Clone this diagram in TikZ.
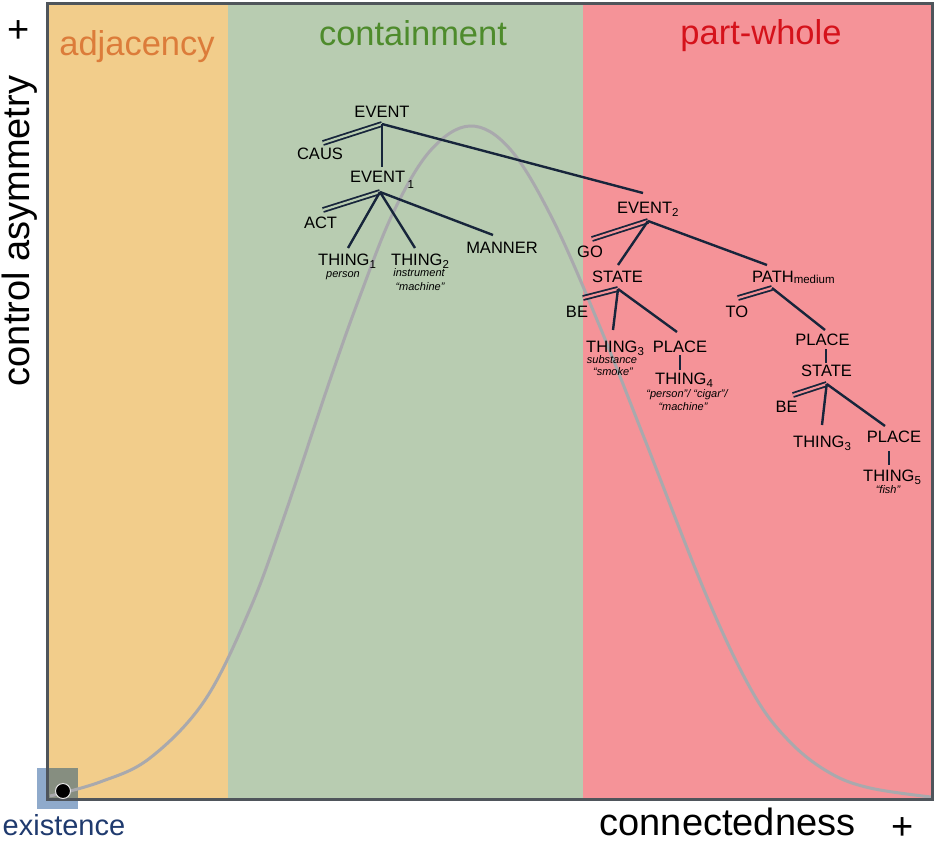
\documentclass[tikz,border=0pt]{standalone}
\usepackage{fontspec}
\setmainfont{Liberation Sans}
\definecolor{adjfill}{HTML}{F2CD8B}
\definecolor{contfill}{HTML}{B8CCB1}
\definecolor{pwfill}{HTML}{F59398}
\definecolor{framec}{HTML}{4F555B}
\definecolor{curvec}{HTML}{A9A9AD}
\definecolor{navy}{HTML}{17253B}
\definecolor{adjtext}{HTML}{DC7C3A}
\definecolor{conttext}{HTML}{4E8B2C}
\definecolor{pwtext}{HTML}{D5121B}
\definecolor{existc}{HTML}{1F3A6E}
\definecolor{bluesq}{HTML}{8FAACB}
\definecolor{greysq}{HTML}{868E80}
\newcommand\tlab{\fontsize{16.5}{18}\selectfont}
\newcommand\tnote{\fontsize{11}{12}\selectfont\itshape}
\newcommand\axlab{\fontsize{38}{40}\selectfont}
\newcommand\reglab{\fontsize{34.5}{36}\selectfont}
\newcommand\sbs[1]{\raisebox{-3pt}{\fontsize{11.5}{12}\selectfont #1}}
\begin{document}
\begin{tikzpicture}[x=1pt,y=-1pt,
  lab/.style={inner sep=0pt, font=\tlab, text=black},
  note/.style={inner sep=0pt, font=\tnote, text=black},
  edge/.style={draw=navy, line width=2.4pt},
  dbl/.style={draw=navy, line width=1.8pt, double=#1, double distance=2.2pt},
  region/.style={inner sep=0pt, font=\reglab},
  axis/.style={inner sep=0pt, font=\axlab, text=black}]
\path[use as bounding box] (0,0) rectangle (935,841);
% regions
\fill[adjfill] (47,3) rectangle (227.5,799);
\fill[contfill] (227.5,3) rectangle (583,799);
\fill[pwfill] (583,3) rectangle (932,799);
% existence square
\fill[bluesq] (37,768) rectangle (78,809);
\fill[greysq] (47,768) rectangle (78,799);
% curve
\draw[curvec, line width=3pt] plot[smooth, tension=0.6] coordinates {(50,796) (100,782) (150,758) (205,700) (250,609) (283,520) (330,380) (360,296) (393,213) (430,151) (470,126) (510,149) (553,220) (600,327) (645,440) (707,597) (753,693) (790,742) (830,773) (870,788) (931,797)};
% frame
\draw[framec, line width=3pt] (47,3) rectangle (932,799);
\node[circle, fill=black, draw=white!80!gray, line width=1pt, minimum size=15pt, inner sep=0pt] (dot) at (63,791) {};
% region labels
\node[region, text=adjtext, anchor=base] (adj) at (137,55) {adjacency};
\node[region, text=conttext, anchor=base] (cont) at (413,45) {containment};
\node[region, text=pwtext, anchor=base] (pw) at (761,44) {part-whole};
% axes
\node[axis, rotate=90, anchor=base] (yax) at (30,231) {control asymmetry};
\node[axis] (yplus) at (19,32) {+};
\node[axis, anchor=base] (xax) at (727.5,835) {connectedness};
\node[axis] (xplus) at (903,829) {+};
\node[inner sep=0pt, font=\fontsize{29}{30}\selectfont, text=existc, anchor=base] (exist) at (64,835) {existence};
% tree nodes
\node[lab, anchor=base] (ev) at (382,117) {EVENT};
\node[lab, anchor=base] (caus) at (320,159) {CAUS};
\node[lab, anchor=base west] (ev1) at (350,182) {EVENT\hspace{2.5pt}\raisebox{-6pt}{\fontsize{11.5}{12}\selectfont 1}};
\node[lab, anchor=base] (act) at (320.5,228) {ACT};
\node[lab, anchor=base west] (th1) at (318,265) {THING\sbs{1}};
\node[note, anchor=base] (th1n) at (343,277) {person};
\node[lab, anchor=base west] (th2) at (391,265) {THING\sbs{2}};
\node[note, anchor=base] (th2n) at (419,276.5) {instrument};
\node[note, anchor=base] (th2m) at (420,290) {“machine”};
\node[lab, anchor=base] (man) at (502,253) {MANNER};
\node[lab, anchor=base west] (ev2) at (617,213) {EVENT\sbs{2}};
\node[lab, anchor=base] (go) at (590,257) {GO};
\node[lab, anchor=base] (st) at (617.5,282) {STATE};
\node[lab, anchor=base west] (path) at (752,282) {PATH\raisebox{-1.5pt}{\fontsize{11.5}{12}\selectfont medium}};
\node[lab, anchor=base] (be) at (577,317) {BE};
\node[lab, anchor=base] (to) at (737,317) {TO};
\node[lab, anchor=base west] (th3) at (586,352) {THING\sbs{3}};
\node[note, anchor=base] (th3n) at (612,363.5) {substance};
\node[note, anchor=base] (th3m) at (613,375) {“smoke”};
\node[lab, anchor=base] (pl) at (680,352) {PLACE};
\node[lab, anchor=base west] (th4) at (655,384) {THING\sbs{4}};
\node[note, anchor=base] (th4n) at (687,397) {“person”/ “cigar”/};
\node[note, anchor=base] (th4m) at (683,410) {“machine”};
\node[lab, anchor=base] (plr) at (822.5,345) {PLACE};
\node[lab, anchor=base] (str) at (826.5,376) {STATE};
\node[lab, anchor=base] (ber) at (786.7,412) {BE};
\node[lab, anchor=base west] (th3r) at (793,447) {THING\sbs{3}};
\node[lab, anchor=base] (plr2) at (894,442) {PLACE};
\node[lab, anchor=base west] (th5) at (863,481) {THING\sbs{5}};
\node[note, anchor=base] (th5n) at (888,493) {“fish”};
% junctions and connector ends
\coordinate (ev-j) at (382,124);
\coordinate (caus-t) at (323,143);
\coordinate (ev1-t) at (382,167);
\coordinate (ev2-t) at (643,193);
\coordinate (ev1-j) at (380,192);
\coordinate (act-t) at (323,210);
\coordinate (th1-t) at (348,248);
\coordinate (th2-t) at (415,248);
\coordinate (man-t) at (493,235);
\coordinate (ev2-j) at (648,221);
\coordinate (go-t) at (592,239);
\coordinate (st-t) at (618,265);
\coordinate (path-t) at (767,265);
\coordinate (st-j) at (618,289);
\coordinate (be-t) at (583,298);
\coordinate (th3-t) at (613,330);
\coordinate (pl-t) at (677,332);
\coordinate (path-j) at (772,288);
\coordinate (to-t) at (738,298);
\coordinate (plr-t) at (825,330);
\coordinate (plr-b) at (826,349);
\coordinate (str-t) at (826,363);
\coordinate (pl-b) at (680,355);
\coordinate (th4-t) at (680,370);
\coordinate (str-j) at (826.7,384);
\coordinate (ber-t) at (793,395);
\coordinate (th3r-t) at (822,425);
\coordinate (plr2-t) at (885,426);
\coordinate (plr2-b) at (889,451);
\coordinate (th5-t) at (889,465);
% connectors
\draw[dbl=contfill] (ev-j) -- (caus-t);
\draw[edge] (ev-j) -- (ev1-t);
\draw[edge] (ev-j) -- (ev2-t);
\draw[dbl=contfill] (ev1-j) -- (act-t);
\draw[edge] (ev1-j) -- (th1-t);
\draw[edge] (ev1-j) -- (th2-t);
\draw[edge] (ev1-j) -- (man-t);
\draw[dbl=pwfill] (ev2-j) -- (go-t);
\draw[edge] (ev2-j) -- (st-t);
\draw[edge] (ev2-j) -- (path-t);
\draw[dbl=pwfill] (st-j) -- (be-t);
\draw[edge] (st-j) -- (th3-t);
\draw[edge] (st-j) -- (pl-t);
\draw[edge] (pl-b) -- (th4-t);
\draw[dbl=pwfill] (path-j) -- (to-t);
\draw[edge] (path-j) -- (plr-t);
\draw[edge] (plr-b) -- (str-t);
\draw[dbl=pwfill] (str-j) -- (ber-t);
\draw[edge] (str-j) -- (th3r-t);
\draw[edge] (str-j) -- (plr2-t);
\draw[edge] (plr2-b) -- (th5-t);
\end{tikzpicture}
\end{document}
